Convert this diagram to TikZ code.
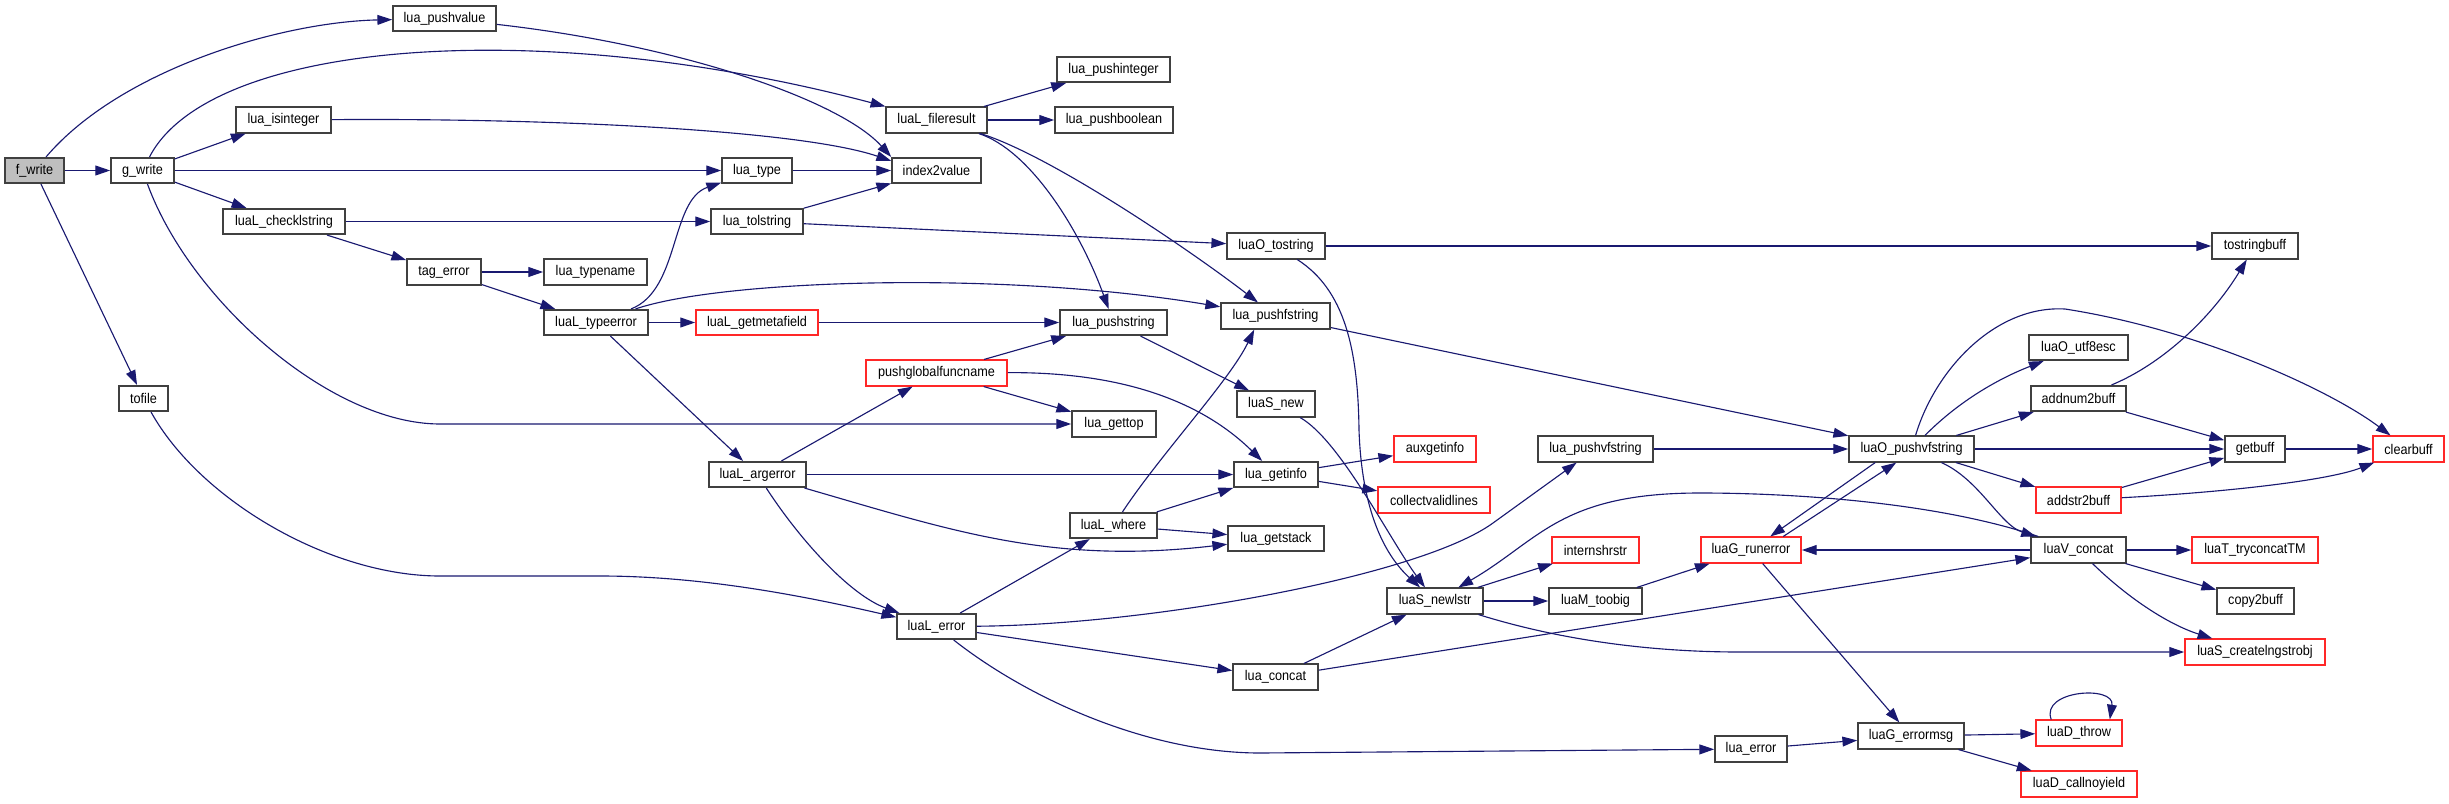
\documentclass[tikz,border=0pt]{standalone}
\usepackage{fontspec}
\setmainfont{Liberation Sans}[FakeStretch=0.9]
\usepackage{xcolor}
\usetikzlibrary{arrows.meta}
\definecolor{callblue}{RGB}{25,25,112}
\definecolor{boxred}{RGB}{255,40,40}
\definecolor{rootgray}{RGB}{191,191,191}

\begin{document}
\begin{tikzpicture}[x=0.01cm, y=-0.01cm,
  fnbox/.style={draw=black!75, line width=0.45pt, fill=white, minimum height=0.255cm, inner sep=0pt, font=\fontsize{4pt}{4.8pt}\selectfont},
  redbox/.style={fnbox, draw=boxred},
  arr/.style={-{Triangle[length=4.2pt,width=2.8pt]}, draw=callblue, line width=0.32pt}
]
\useasboundingbox (0,0) rectangle (2449,803);

\node[fnbox, fill=rootgray, minimum width=0.59cm] (fwrite) at (34.5,170.5) {f\_write};
\node[fnbox, minimum width=0.63cm] (gwrite) at (142.5,170.5) {g\_write};
\node[fnbox, minimum width=0.49cm] (tofile) at (143.5,398.5) {tofile};
\node[fnbox, minimum width=1.03cm] (pushvalue) at (444.5,18.5) {lua\_pushvalue};
\node[fnbox, minimum width=0.95cm] (isinteger) at (283.5,120) {lua\_isinteger};
\node[fnbox, minimum width=1.22cm] (checklstring) at (284,221.5) {luaL\_checklstring};
\node[fnbox, minimum width=0.74cm] (tagerror) at (444,272) {tag\_error};
\node[fnbox, minimum width=1.03cm] (typename) at (595.5,272) {lua\_typename};
\node[fnbox, minimum width=1.04cm] (typeerror) at (596,322.5) {luaL\_typeerror};
\node[redbox, minimum width=1.22cm] (getmetafield) at (757,322.5) {luaL\_getmetafield};
\node[fnbox, minimum width=0.70cm] (luatype) at (757,170.5) {lua\_type};
\node[fnbox, minimum width=0.92cm] (tolstring) at (757,221.5) {lua\_tolstring};
\node[fnbox, minimum width=0.97cm] (argerror) at (757.5,474.5) {luaL\_argerror};
\node[fnbox, minimum width=1.01cm] (fileresult) at (936.5,120) {luaL\_fileresult};
\node[fnbox, minimum width=0.89cm] (index2value) at (936.5,170.5) {index2value};
\node[redbox, minimum width=1.41cm] (globalfuncname) at (936.5,373) {pushglobalfuncname};
\node[fnbox, minimum width=0.79cm] (auxlerror) at (936.5,626.5) {luaL\_error};
\node[fnbox, minimum width=1.13cm] (pushinteger) at (1113.5,69.5) {lua\_pushinteger};
\node[fnbox, minimum width=1.18cm] (pushboolean) at (1114,120) {lua\_pushboolean};
\node[fnbox, minimum width=1.07cm] (pushstring) at (1113.5,322.5) {lua\_pushstring};
\node[fnbox, minimum width=0.84cm] (gettop) at (1114,424) {lua\_gettop};
\node[fnbox, minimum width=0.87cm] (where) at (1113.5,525.5) {luaL\_where};
\node[fnbox, minimum width=0.98cm] (tostring) at (1276,246) {luaO\_tostring};
\node[fnbox, minimum width=1.09cm] (pushfstring) at (1275.5,316) {lua\_pushfstring};
\node[fnbox, minimum width=0.78cm] (snew) at (1276,404) {luaS\_new};
\node[fnbox, minimum width=0.84cm] (getinfo) at (1276,474.5) {lua\_getinfo};
\node[fnbox, minimum width=0.96cm] (getstack) at (1276,538.5) {lua\_getstack};
\node[fnbox, minimum width=0.85cm] (concat) at (1275.5,677) {lua\_concat};
\node[redbox, minimum width=0.82cm] (auxgetinfo) at (1435,449) {auxgetinfo};
\node[redbox, minimum width=1.12cm] (validlines) at (1434,500) {collectvalidlines};
\node[fnbox, minimum width=0.96cm] (newlstr) at (1435,601) {luaS\_newlstr};
\node[fnbox, minimum width=1.15cm] (pushvfstring) at (1595.5,449) {lua\_pushvfstring};
\node[redbox, minimum width=0.87cm] (internshrstr) at (1595.5,550) {internshrstr};
\node[fnbox, minimum width=0.93cm] (toobig) at (1595.5,601) {luaM\_toobig};
\node[redbox, minimum width=1.00cm] (runerror) at (1751,550) {luaG\_runerror};
\node[fnbox, minimum width=0.72cm] (luaerror) at (1751,749) {lua\_error};
\node[fnbox, minimum width=1.25cm] (opushvfstring) at (1911.5,449) {luaO\_pushvfstring};
\node[fnbox, minimum width=1.06cm] (errormsg) at (1911,736) {luaG\_errormsg};
\node[fnbox, minimum width=0.99cm] (utf8esc) at (2078.5,347.5) {luaO\_utf8esc};
\node[fnbox, minimum width=0.95cm] (addnum) at (2078.5,398.5) {addnum2buff};
\node[redbox, minimum width=0.85cm] (addstr) at (2078.5,500) {addstr2buff};
\node[fnbox, minimum width=0.95cm] (vconcat) at (2078.5,550) {luaV\_concat};
\node[redbox, minimum width=0.86cm] (dthrow) at (2079,733) {luaD\_throw};
\node[redbox, minimum width=1.16cm] (callnoyield) at (2079,784) {luaD\_callnoyield};
\node[fnbox, minimum width=0.86cm] (tostringbuff) at (2255,246) {tostringbuff};
\node[fnbox, minimum width=0.60cm] (getbuff) at (2255,449) {getbuff};
\node[redbox, minimum width=1.26cm] (tryconcat) at (2255,550) {luaT\_tryconcatTM};
\node[fnbox, minimum width=0.77cm] (copy2buff) at (2255.5,601) {copy2buff};
\node[redbox, minimum width=1.40cm] (createlngstrobj) at (2255,652) {luaS\_createlngstrobj};
\node[redbox, minimum width=0.71cm] (clearbuff) at (2408.5,449) {clearbuff};

\draw[arr] (fwrite) .. controls (120,70) and (280,22) .. (pushvalue);
\draw[arr] (fwrite) -- (gwrite);
\draw[arr] (fwrite) -- (tofile);
\draw[arr] (gwrite) .. controls (210,40) and (540,15) .. (fileresult);
\draw[arr] (gwrite) -- (isinteger);
\draw[arr] (gwrite) -- (luatype);
\draw[arr] (gwrite) -- (checklstring);
\draw[arr] (gwrite) .. controls (190,300) and (330,424) .. (440,424) -- (gettop);
\draw[arr] (tofile) .. controls (200,500) and (330,576) .. (440,576) -- (600,576) .. controls (700,576) and (800,595) .. (auxlerror);
\draw[arr] (pushvalue) .. controls (680,45) and (840,100) .. (index2value.north west);
\draw[arr] (isinteger) .. controls (550,118) and (800,130) .. (index2value.168);
\draw[arr] (luatype) -- (index2value);
\draw[arr] (tolstring) -- (index2value);
\draw[arr] (fileresult) -- (pushinteger);
\draw[arr] (fileresult) -- (pushboolean);
\draw[arr] (fileresult) .. controls (1030,150) and (1080,230) .. (pushstring);
\draw[arr] (fileresult) .. controls (1050,155) and (1190,250) .. (pushfstring);
\draw[arr] (checklstring) -- (tolstring);
\draw[arr] (checklstring) -- (tagerror);
\draw[arr] (tolstring) -- (tostring);
\draw[arr] (tagerror) -- (typename);
\draw[arr] (tagerror) -- (typeerror);
\draw[arr] (typeerror) .. controls (680,290) and (670,200) .. (luatype);
\draw[arr] (typeerror) -- (getmetafield);
\draw[arr] (typeerror) .. controls (720,280) and (1000,270) .. (pushfstring);
\draw[arr] (typeerror) -- (argerror);
\draw[arr] (getmetafield) -- (pushstring);
\draw[arr] (tostring) -- (tostringbuff);
\draw[arr] (tostring) .. controls (1345,290) and (1358,350) .. (1359,430) .. controls (1362,520) and (1390,560) .. (newlstr);
\draw[arr] (pushstring) -- (snew);
\draw[arr] (pushfstring) -- (opushvfstring);
\draw[arr] (globalfuncname) -- (pushstring);
\draw[arr] (globalfuncname) -- (gettop);
\draw[arr] (globalfuncname) .. controls (1120,372) and (1200,400) .. (getinfo);
\draw[arr] (snew) .. controls (1340,440) and (1390,540) .. (newlstr);
\draw[arr] (argerror) -- (globalfuncname);
\draw[arr] (argerror) -- (getinfo);
\draw[arr] (argerror) .. controls (950,530) and (1050,565) .. (getstack);
\draw[arr] (argerror) .. controls (800,540) and (850,595) .. (auxlerror);
\draw[arr] (auxlerror) -- (where);
\draw[arr] (auxlerror) .. controls (1150,625) and (1420,576) .. (1493,523) -- (pushvfstring);
\draw[arr] (auxlerror) -- (concat);
\draw[arr] (auxlerror) .. controls (1030,700) and (1150,753) .. (1260,753) -- (luaerror);
\draw[arr] (where) -- (getinfo);
\draw[arr] (where) -- (getstack);
\draw[arr] (where) .. controls (1160,455) and (1230,380) .. ([xshift=0.34cm]pushfstring.south west);
\draw[arr] (getinfo) -- (auxgetinfo);
\draw[arr] (getinfo) -- (validlines);
\draw[arr] (pushvfstring) -- (opushvfstring);
\draw[arr] (newlstr) -- (internshrstr);
\draw[arr] (newlstr) -- (toobig);
\draw[arr] (newlstr) .. controls (1560,640) and (1650,652) .. (1740,652) -- (createlngstrobj);
\draw[arr] (concat) -- (newlstr);
\draw[arr] (concat) -- (vconcat);
\draw[arr] (toobig) -- (runerror);
\draw[arr] ([xshift=0.83cm]runerror.north west) -- ([xshift=0.48cm]opushvfstring.south west);
\draw[arr] ([xshift=0.27cm]opushvfstring.south west) -- ([xshift=0.70cm]runerror.north west);
\draw[arr] (runerror) -- (errormsg);
\draw[arr] (vconcat) -- (runerror);
\draw[arr] (vconcat) .. controls (1930,500) and (1780,493) .. (1700,493) .. controls (1560,493) and (1540,540) .. (newlstr);
\draw[arr] (vconcat) -- (tryconcat);
\draw[arr] (vconcat) -- (copy2buff);
\draw[arr] (vconcat) .. controls (2130,600) and (2170,625) .. (createlngstrobj);
\draw[arr] (opushvfstring) .. controls (1960,400) and (2000,378) .. (utf8esc);
\draw[arr] (opushvfstring) -- (addnum);
\draw[arr] (opushvfstring) -- (getbuff);
\draw[arr] (opushvfstring) -- (addstr);
\draw[arr] (opushvfstring) .. controls (1980,480) and (2000,525) .. (vconcat);
\draw[arr] (opushvfstring) .. controls (1935,370) and (1995,305) .. (2065,309) .. controls (2200,330) and (2330,390) .. (clearbuff);
\draw[arr] (addnum) .. controls (2160,365) and (2210,320) .. (tostringbuff);
\draw[arr] (addnum) -- (getbuff);
\draw[arr] (addstr) -- (getbuff);
\draw[arr] (addstr) .. controls (2230,492) and (2330,480) .. (clearbuff);
\draw[arr] (getbuff) -- (clearbuff);
\draw[arr] (luaerror) -- (errormsg);
\draw[arr] (errormsg) -- (dthrow);
\draw[arr] (errormsg) -- (callnoyield);
\draw[arr] ([xshift=0.16cm]dthrow.north west) .. controls (2040,690) and (2115,685) .. ([xshift=-0.13cm]dthrow.north east);
\end{tikzpicture}
\end{document}
